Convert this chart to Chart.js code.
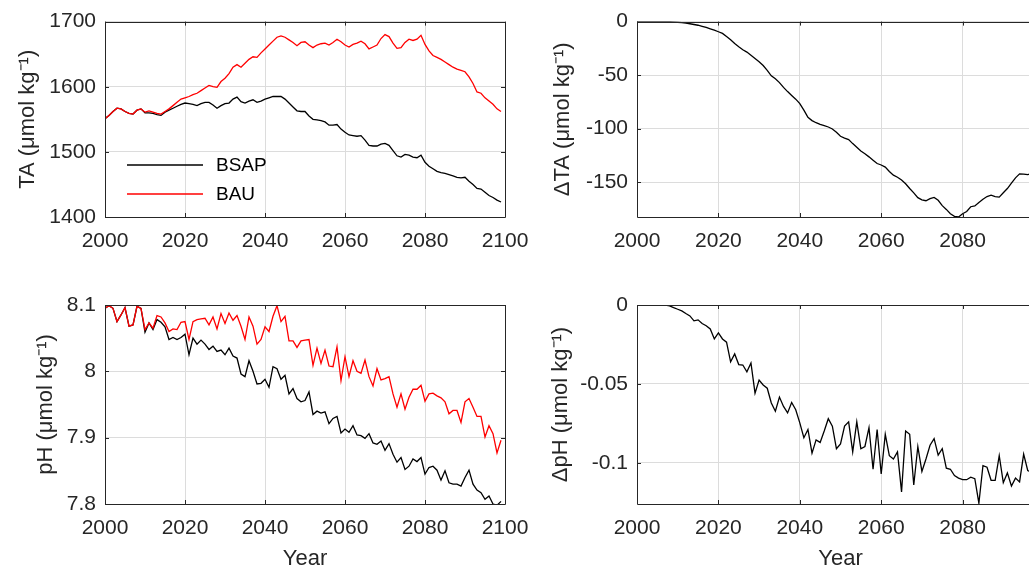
<!DOCTYPE html>
<html>
<head>
<meta charset="utf-8">
<script src="https://cdn.jsdelivr.net/npm/chart.js@4.4.1/dist/chart.umd.min.js"></script>
<style>
    html, body { margin: 0; padding: 0; background: #fff; overflow: hidden; width: 1029px; height: 572px; }
    canvas { position: absolute; }
</style>
</head>
<body>
<canvas id="taChart" width="545" height="270" style="left:0;top:0"></canvas>
<canvas id="dtaChart" width="545" height="270" style="left:520px;top:0"></canvas>
<canvas id="phChart" width="545" height="292" style="left:0;top:280px"></canvas>
<canvas id="dphChart" width="545" height="292" style="left:520px;top:280px"></canvas>
<script>
// yearly values
let years = [
    2000, 2001, 2002, 2003, 2004, 2005, 2006, 2007, 2008, 2009,
    2010, 2011, 2012, 2013, 2014, 2015, 2016, 2017, 2018, 2019,
    2020, 2021, 2022, 2023, 2024, 2025, 2026, 2027, 2028, 2029,
    2030, 2031, 2032, 2033, 2034, 2035, 2036, 2037, 2038, 2039,
    2040, 2041, 2042, 2043, 2044, 2045, 2046, 2047, 2048, 2049,
    2050, 2051, 2052, 2053, 2054, 2055, 2056, 2057, 2058, 2059,
    2060, 2061, 2062, 2063, 2064, 2065, 2066, 2067, 2068, 2069,
    2070, 2071, 2072, 2073, 2074, 2075, 2076, 2077, 2078, 2079,
    2080, 2081, 2082, 2083, 2084, 2085, 2086, 2087, 2088, 2089,
    2090, 2091, 2092, 2093, 2094, 2095, 2096, 2097, 2098, 2099
];

let taBSAP = [
    1551, 1556, 1562, 1567, 1566, 1562, 1559, 1558, 1564, 1566,
    1560, 1560, 1559, 1557, 1556, 1561, 1564, 1567, 1570, 1573,
    1575, 1574, 1573, 1571, 1574, 1576, 1576, 1572, 1567, 1571,
    1574, 1575, 1581, 1584, 1577, 1575, 1578, 1580, 1576, 1578,
    1581, 1583, 1585, 1585, 1585, 1581, 1575, 1569, 1563, 1562,
    1562, 1555, 1550, 1549, 1548, 1546, 1541, 1541, 1542, 1535,
    1530, 1526, 1525, 1524, 1525, 1518, 1510, 1509, 1509, 1512,
    1513, 1510, 1502, 1494, 1492, 1496, 1495, 1492, 1491, 1495,
    1484, 1478, 1474, 1470, 1468, 1467, 1465, 1463, 1461, 1460,
    1461, 1455, 1450, 1444, 1443, 1438, 1433, 1430, 1426, 1423
];

let taBAU = [
    1551, 1556, 1562, 1567, 1566, 1562, 1559, 1558, 1564, 1566,
    1561, 1563, 1561, 1559, 1558, 1562, 1566, 1571, 1576, 1581,
    1583, 1585, 1588, 1590, 1594, 1598, 1602, 1600, 1599, 1608,
    1613, 1620, 1630, 1634, 1630, 1636, 1642, 1646, 1645, 1652,
    1658, 1664, 1670, 1676, 1678, 1676, 1672, 1668, 1663, 1668,
    1669, 1664, 1660, 1664, 1666, 1667, 1664, 1668, 1673, 1669,
    1664, 1661, 1665, 1667, 1670, 1666, 1658, 1661, 1664, 1674,
    1680, 1677, 1667, 1659, 1660, 1668, 1673, 1671, 1673, 1679,
    1665, 1655, 1648, 1645, 1642, 1638, 1634, 1630, 1627, 1625,
    1623, 1615, 1605, 1592, 1590, 1583, 1578, 1573, 1566, 1562
];

let deltaTA = [
    0, 0, 0, 0, 0, 0, 0, 0, 0, -0.3,
    -0.6, -1, -1.5, -2, -2.7, -3.4, -4.4, -5.5, -6.7, -8,
    -9.5, -11, -14, -17, -20.5, -23.5, -26.3, -28.5, -31.5, -34.5,
    -37.5, -41, -45.5, -50.7, -53.5, -57, -61.5, -65.4, -69, -72.5,
    -76.7, -82.8, -89.5, -92.5, -94.5, -96, -97.2, -98.5, -100.3, -103.5,
    -107.2, -108.8, -110.3, -114, -117.5, -121, -123.5, -126.4, -129.5, -132.6,
    -134, -136, -140, -143.5, -145.5, -148, -151.5, -156, -160, -164.5,
    -166.5, -167.4, -165.5, -164.3, -167, -172, -175.5, -179.5, -182, -182.6,
    -179.6, -177.5, -173, -172.3, -169, -166, -163.5, -162.2, -163.5, -164,
    -160, -156, -151, -146, -142.3, -142.5, -143, -142, -141, -140
];

let phBSAP = [
    8.095, 8.099, 8.095, 8.075, 8.085, 8.096, 8.068, 8.070, 8.098, 8.095,
    8.059, 8.073, 8.063, 8.078, 8.074, 8.067, 8.048, 8.051, 8.048, 8.051,
    8.056, 8.025, 8.050, 8.041, 8.047, 8.041, 8.033, 8.038, 8.030, 8.032,
    8.025, 8.035, 8.023, 8.020, 7.996, 7.992, 8.016, 8.000, 7.981, 7.982,
    7.988, 7.976, 8.007, 8.004, 7.988, 7.994, 7.966, 7.974, 7.959, 7.954,
    7.956, 7.969, 7.935, 7.940, 7.937, 7.939, 7.921, 7.929, 7.932, 7.907,
    7.913, 7.908, 7.918, 7.904, 7.903, 7.899, 7.906, 7.892, 7.890, 7.895,
    7.881, 7.891, 7.875, 7.863, 7.870, 7.852, 7.857, 7.868, 7.864, 7.870,
    7.845, 7.855, 7.857, 7.851, 7.836, 7.850, 7.832, 7.830, 7.830, 7.827,
    7.840, 7.851, 7.830, 7.821, 7.817, 7.807, 7.812, 7.800, 7.798, 7.804
];

let phBAU = [
    8.095, 8.099, 8.095, 8.075, 8.085, 8.096, 8.068, 8.070, 8.098, 8.095,
    8.063, 8.073, 8.065, 8.084, 8.082, 8.073, 8.060, 8.064, 8.063, 8.074,
    8.075, 8.048, 8.075, 8.078, 8.079, 8.080, 8.070, 8.082, 8.064, 8.087,
    8.072, 8.088, 8.077, 8.084, 8.068, 8.048, 8.082, 8.068, 8.041, 8.048,
    8.067, 8.060, 8.083, 8.099, 8.075, 8.083, 8.046, 8.046, 8.036, 8.046,
    8.047, 8.048, 8.009, 8.035, 8.012, 8.032, 8.008, 8.007, 8.037, 7.986,
    8.022, 7.992, 8.016, 8.000, 7.997, 8.017, 7.992, 7.978, 8.004, 7.987,
    7.989, 7.992, 7.966, 7.946, 7.966, 7.943, 7.961, 7.973, 7.973, 7.979,
    7.955, 7.966, 7.967, 7.963, 7.960, 7.954, 7.936, 7.941, 7.941, 7.923,
    7.954, 7.959, 7.946, 7.932, 7.932, 7.901, 7.918, 7.906, 7.877, 7.896
];

let deltaPH = [
    0, 0, 0, 0, 0, 0, 0, 0, -0.0006, -0.0017,
    -0.0027, -0.0037, -0.0054, -0.0069, -0.0100, -0.0094, -0.0117, -0.0131, -0.0152, -0.0215,
    -0.0177, -0.0215, -0.0235, -0.0360, -0.0310, -0.0377, -0.0380, -0.0423, -0.0367, -0.0558,
    -0.0475, -0.0506, -0.0527, -0.0620, -0.0673, -0.0583, -0.0642, -0.0683, -0.0617, -0.0663,
    -0.0746, -0.0840, -0.0788, -0.0938, -0.0854, -0.0870, -0.0798, -0.0720, -0.0767, -0.0910,
    -0.0880, -0.0767, -0.0740, -0.0930, -0.0740, -0.0910, -0.0896, -0.0777, -0.1040, -0.0788,
    -0.1070, -0.0819, -0.0954, -0.0975, -0.0930, -0.1183, -0.0798, -0.0819, -0.1140, -0.0896,
    -0.1054, -0.0975, -0.0888, -0.0846, -0.0950, -0.0910, -0.1033, -0.1040, -0.1080, -0.1096,
    -0.1106, -0.1106, -0.1090, -0.1100, -0.1255, -0.1017, -0.1027, -0.1110, -0.1110, -0.0954,
    -0.1125, -0.1063, -0.1146, -0.1096, -0.1120, -0.0944, -0.1048, -0.1060, -0.1100, -0.1080
];

let yearTicks = [2000, 2020, 2040, 2060, 2080, 2100];
let yearTicksCut = [2000, 2020, 2040, 2060, 2080];   // right column, 2100 falls off the page
let taTicks = [1400, 1500, 1600, 1700];
let dtaTicks = [-150, -100, -50, 0];
let phTicks = [7.8, 7.9, 8, 8.1];
let dphTicks = [-0.1, -0.05, 0];

const FONT = "'Liberation Sans', Arial, Helvetica, sans-serif";
const AXIS_COLOR = '#262626';

// MATLAB style box with inward tick marks
const boxPlugin = {
    id: 'matBox',
    afterDatasetsDraw(chart) {
        let ctx = chart.ctx;
        let a = chart.chartArea;
        let sx = chart.scales.x;
        let sy = chart.scales.y;
        let len = 4;
        ctx.save();
        ctx.strokeStyle = AXIS_COLOR;
        ctx.lineWidth = 1;
        ctx.beginPath();
        ctx.rect(Math.round(a.left) + 0.5, Math.round(a.top) + 0.5, Math.round(a.width), Math.round(a.height));
        sx.ticks.forEach(function (t) {
            let px = Math.round(sx.getPixelForValue(t.value)) + 0.5;
            ctx.moveTo(px, a.bottom); ctx.lineTo(px, a.bottom - len);
            ctx.moveTo(px, a.top); ctx.lineTo(px, a.top + len);
        });
        sy.ticks.forEach(function (t) {
            let py = Math.round(sy.getPixelForValue(t.value)) + 0.5;
            ctx.moveTo(a.left, py); ctx.lineTo(a.left + len, py);
            ctx.moveTo(a.right, py); ctx.lineTo(a.right - len, py);
        });
        ctx.stroke();
        ctx.restore();
    }
};

// legend drawn inside the plot, lines only
const lineLegend = {
    id: 'lineLegend',
    afterDraw(chart, args, opts) {
        if (!opts.show) return;
        let ctx = chart.ctx;
        ctx.save();
        ctx.font = opts.size + 'px ' + FONT;
        ctx.textBaseline = 'middle';
        ctx.textAlign = 'left';
        chart.data.datasets.forEach(function (ds, i) {
            let y = opts.y + i * opts.gap;
            ctx.strokeStyle = ds.borderColor;
            ctx.lineWidth = ds.borderWidth;
            ctx.beginPath();
            ctx.moveTo(opts.x, y);
            ctx.lineTo(opts.x + opts.len, y);
            ctx.stroke();
            ctx.fillStyle = '#000';
            ctx.fillText(ds.label, opts.x + opts.len + 13, y + 1);
        });
        ctx.restore();
    }
};

function makePanel(id, datasets, p) {
    let ctx = document.getElementById(id);
    return new Chart(ctx, {
        type: 'line',
        data: { labels: years, datasets: datasets },
        plugins: [boxPlugin, lineLegend],
        options: {
            responsive: false,
            animation: false,
            devicePixelRatio: 1,
            layout: { padding: { top: p.padTop, right: p.padRight, left: 0, bottom: 0 } },
            elements: { point: { radius: 0 }, line: { tension: 0 } },
            plugins: {
                legend: { display: false },
                tooltip: { enabled: false },
                lineLegend: p.legend || {}
            },
            scales: {
                x: {
                    type: 'linear',
                    min: 2000,
                    max: 2100,
                    afterBuildTicks: function (s) { s.ticks = p.xTicks.map(v => ({ value: v })); },
                    afterFit: function (s) { s.height = p.xHeight; },
                    grid: { color: '#dcdcdc', drawTicks: false },
                    border: { display: false },
                    ticks: {
                        color: AXIS_COLOR, padding: 12, maxRotation: 0, autoSkip: false,
                        font: { family: FONT, size: 21 },
                        callback: v => String(v)
                    },
                    title: {
                        display: !!p.xTitle, text: p.xTitle || '', color: AXIS_COLOR,
                        font: { family: FONT, size: 22 }, padding: { top: 0, bottom: 0 }
                    }
                },
                y: {
                    min: p.yMin,
                    max: p.yMax,
                    afterBuildTicks: function (s) { s.ticks = p.yTicks.map(v => ({ value: v })); },
                    afterFit: function (s) { s.width = p.yWidth; },
                    grid: { color: '#dcdcdc', drawTicks: false },
                    border: { display: false },
                    ticks: {
                        color: AXIS_COLOR, padding: 9,
                        font: { family: FONT, size: 21 },
                        callback: v => String(v)
                    },
                    title: {
                        display: true, text: p.yTitle, color: AXIS_COLOR,
                        font: { family: FONT, size: 22 }, padding: { top: p.titlePad, bottom: 0 }
                    }
                }
            }
        }
    });
}

function showTA() {
    makePanel('taChart', [{
        label: 'BSAP', data: taBSAP, borderColor: '#000000', borderWidth: 1.3, order: 2
    }, {
        label: 'BAU', data: taBAU, borderColor: '#ff0000', borderWidth: 1.3, order: 1
    }], {
        xTicks: yearTicks, yMin: 1400, yMax: 1700, yTicks: taTicks, yTitle: 'TA (μmol kg⁻¹)',
        yWidth: 105, titlePad: 15, padTop: 18, padRight: 40, xHeight: 53,
        legend: { show: true, x: 127, y: 165, gap: 29, len: 76, size: 19 }
    });
}

function showDeltaTA() {
    makePanel('dtaChart', [{
        label: 'ΔTA', data: deltaTA, borderColor: '#000000', borderWidth: 1.3
    }], {
        xTicks: yearTicksCut, yMin: -182.6, yMax: 0, yTicks: dtaTicks, yTitle: 'ΔTA (μmol kg⁻¹)',
        yWidth: 117, titlePad: 30, padTop: 18, padRight: 21, xHeight: 53
    });
}

function showPH() {
    makePanel('phChart', [{
        label: 'BSAP', data: phBSAP, borderColor: '#000000', borderWidth: 1.3, order: 2
    }, {
        label: 'BAU', data: phBAU, borderColor: '#ff0000', borderWidth: 1.3, order: 1
    }], {
        xTicks: yearTicks, yMin: 7.8, yMax: 8.1, yTicks: phTicks, yTitle: 'pH (μmol kg⁻¹)', xTitle: 'Year',
        yWidth: 105, titlePad: 33, padTop: 25, padRight: 40, xHeight: 68
    });
}

function showDeltaPH() {
    makePanel('dphChart', [{
        label: 'ΔpH', data: deltaPH, borderColor: '#000000', borderWidth: 1.3
    }], {
        xTicks: yearTicksCut, yMin: -0.126, yMax: 0, yTicks: dphTicks, yTitle: 'ΔpH (μmol kg⁻¹)', xTitle: 'Year',
        yWidth: 117, titlePad: 28, padTop: 25, padRight: 21, xHeight: 68
    });
}

showTA();
showDeltaTA();
showPH();
showDeltaPH();
</script>
</body>
</html>
